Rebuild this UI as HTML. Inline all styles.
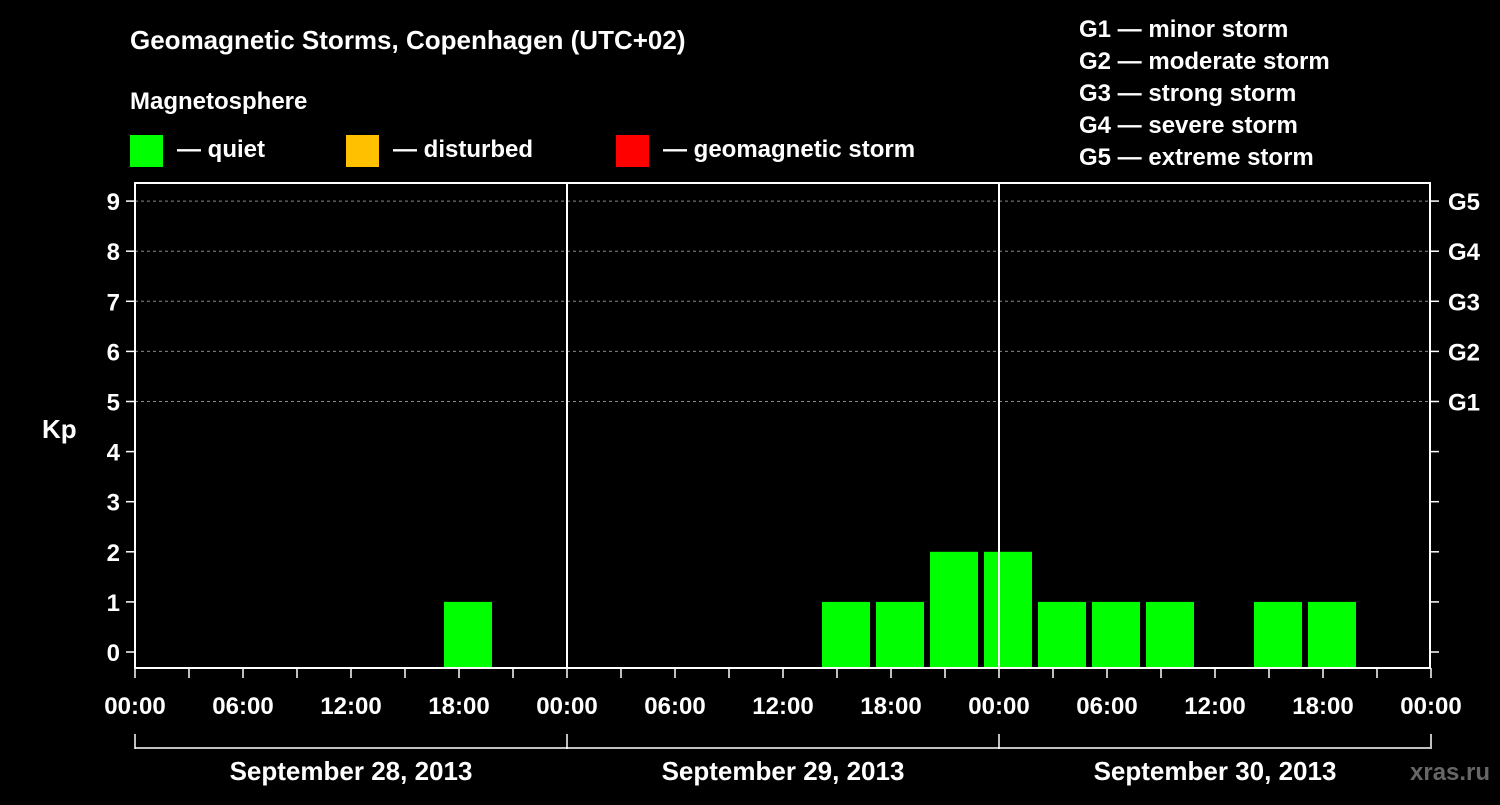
<!DOCTYPE html>
<html><head><meta charset="utf-8"><style>
body{margin:0;background:#000;}
svg text{font-family:"Liberation Sans",Arial,sans-serif;font-weight:bold;fill:#fff;}
</style></head><body>
<svg id="c" width="1500" height="800" xmlns="http://www.w3.org/2000/svg">
<rect width="1500" height="800" fill="#000"/>
<text x="130" y="49" font-size="26">Geomagnetic Storms, Copenhagen (UTC+02)</text>
<text x="130" y="109" font-size="24">Magnetosphere</text>
<g><rect x="130" y="135" width="33" height="32" fill="#00ff00"/><text x="177" y="157" font-size="24">— quiet</text></g>
<g><rect x="346" y="135" width="33" height="32" fill="#ffc000"/><text x="393" y="157" font-size="24">— disturbed</text></g>
<g><rect x="616" y="135" width="33" height="32" fill="#ff0000"/><text x="663" y="157" font-size="24">— geomagnetic storm</text></g>
<g font-size="24">
<text x="1079" y="37">G1 — minor storm</text>
<text x="1079" y="69">G2 — moderate storm</text>
<text x="1079" y="101">G3 — strong storm</text>
<text x="1079" y="133">G4 — severe storm</text>
<text x="1079" y="165">G5 — extreme storm</text>
</g>
<text x="42" y="438" font-size="26">Kp</text>
<text x="1410" y="780" font-size="24" fill="#555" style="fill:#666">xras.ru</text>
<g id="plot"></g>
</svg>
<script>
const days=["September 28, 2013","September 29, 2013","September 30, 2013"];
const kpDay1=[null,null,null,null,null,null,1,null];
const kpDay2=[null,null,null,null,null,1,1,2];
const kpDay3=[2,1,1,1,null,1,1,null];
const yTicks=[0,1,2,3,4,5,6,7,8,9];
const gLabels=["G1","G2","G3","G4","G5"];
const xLabels=["00:00","06:00","12:00","18:00"];
const NS="http://www.w3.org/2000/svg";
const g=document.getElementById("plot");
const X0=135,DAY=432,Y0=652,UNIT=50.1,BOT=668,TOP=183,RIGHT=1430;
const xs=h=>X0+h*DAY/24;
const ys=v=>Y0-v*UNIT;
function mk(t,a,p){const e=document.createElementNS(NS,t);for(const k in a)e.setAttribute(k,a[k]);(p||g).appendChild(e);return e;}
// gridlines
yTicks.forEach(v=>{if(v>=5){const l=mk("line",{x1:X0,x2:RIGHT,y1:ys(v),y2:ys(v),stroke:"#888","stroke-dasharray":"3,3","stroke-width":1});

}});
// bars
[kpDay1,kpDay2,kpDay3].forEach((arr,d)=>{arr.forEach((v,k)=>{if(v===null)return;
const c=xs(d*24+k*3+0.5);
const col=v>=5?"#ff0000":(v>=4?"#ffc000":"#00ff00");
const r=mk("rect",{x:c-24,y:ys(v),width:48,height:BOT-ys(v),fill:col});

});});
// frame
const fr=mk("rect",{x:X0,y:TOP,width:RIGHT-X0,height:BOT-TOP,fill:"none",stroke:"#fff","stroke-width":2});


[1,2].forEach(d=>{const l=mk("line",{x1:xs(d*24),x2:xs(d*24),y1:TOP,y2:BOT,stroke:"#fff","stroke-width":2});

});
// y ticks
yTicks.forEach(v=>{
mk("line",{x1:X0-9,x2:X0,y1:ys(v),y2:ys(v),stroke:"#fff","stroke-width":1.5});
mk("line",{x1:RIGHT,x2:RIGHT+9,y1:ys(v),y2:ys(v),stroke:"#fff","stroke-width":1.5});
const t=mk("text",{x:X0-15,y:ys(v)+9,"text-anchor":"end","font-size":24});t.textContent=v;

});
gLabels.forEach((s,i)=>{const t=mk("text",{x:1448,y:ys(i+5)+9,"font-size":24});t.textContent=s;

});
// x ticks
for(let h=0;h<=72;h+=3){mk("line",{x1:xs(h),x2:xs(h),y1:BOT,y2:BOT+10,stroke:"#fff","stroke-width":1.5});}
for(let h=0;h<=72;h+=6){const t=mk("text",{x:xs(h),y:714,"text-anchor":"middle","font-size":24});t.textContent=xLabels[(h/6)%4];

}
// date bracket
mk("line",{x1:X0,x2:RIGHT,y1:748,y2:748,stroke:"#fff","stroke-width":1.5});
for(let d=0;d<=3;d++)mk("line",{x1:xs(d*24),x2:xs(d*24),y1:734,y2:749,stroke:"#fff","stroke-width":1.5});
days.forEach((s,d)=>{const t=mk("text",{x:xs(d*24+12),y:780,"text-anchor":"middle","font-size":26});t.textContent=s;

});
</script>
</body></html>
